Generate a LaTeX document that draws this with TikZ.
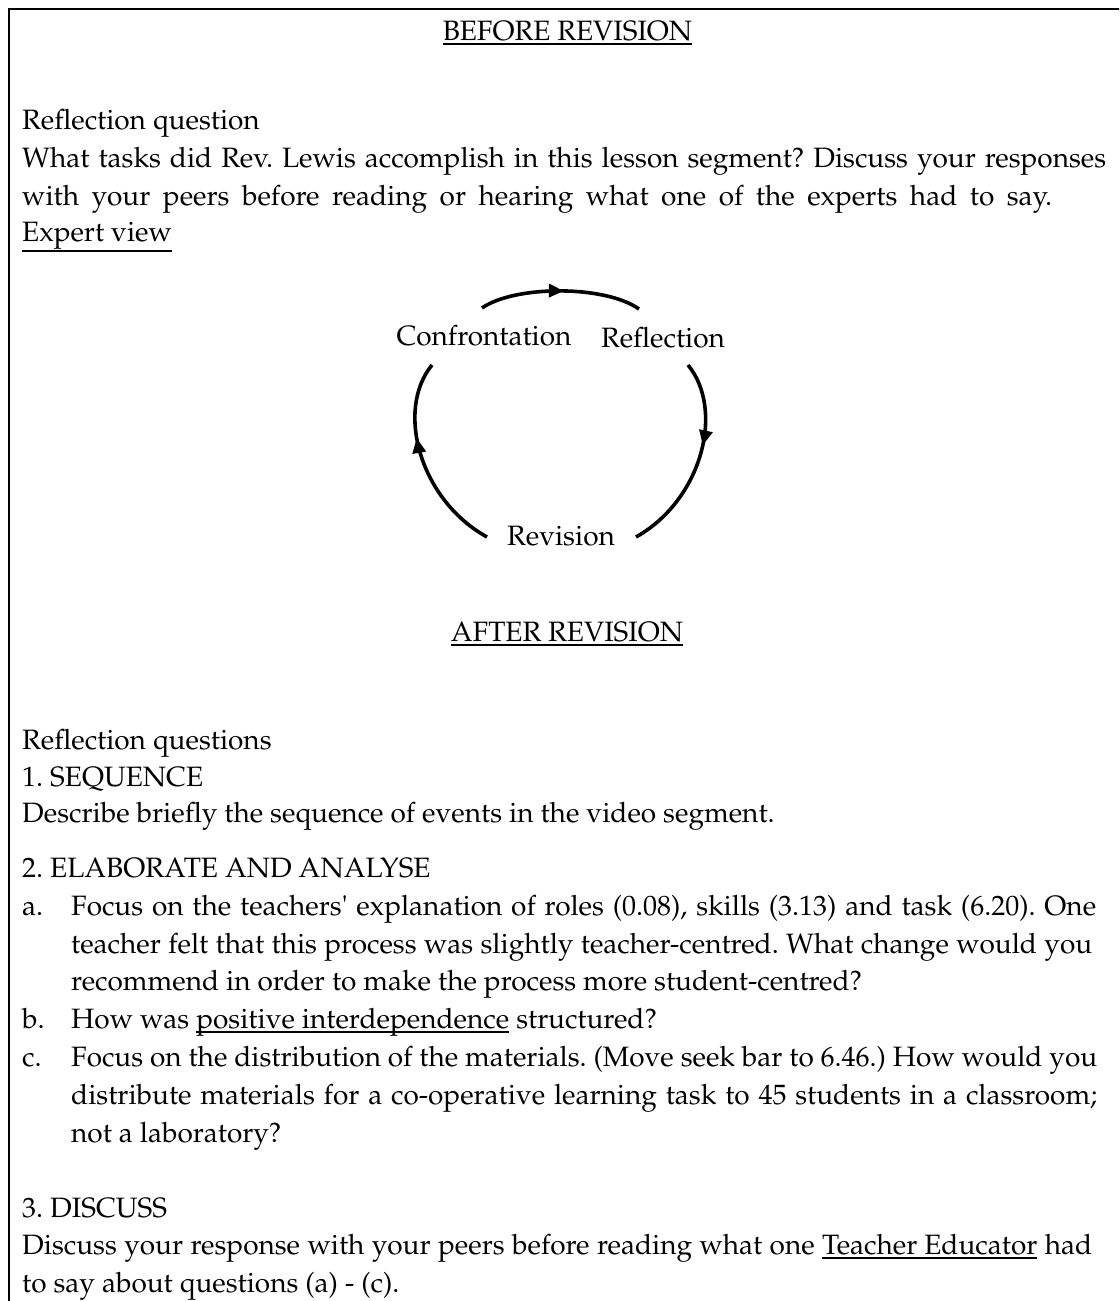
\documentclass[tikz,border=0pt]{standalone}
\usepackage[T1]{fontenc}
\renewcommand{\rmdefault}{ppl}
\usetikzlibrary{arrows.meta,decorations.markings}
\frenchspacing

% underline drawn at a fixed depth below the baseline
\newcommand{\myul}[2][5]{\setbox0=\hbox{#2}\rlap{\rule[-#1pt]{\wd0}{2pt}}\box0\relax}
% a justified line spread to a given width
\newcommand{\jline}[2]{\makebox[#1pt][s]{#2}}

\tikzset{
  body/.style={inner sep=0pt, font=\fontsize{28}{32}\selectfont},
  txt/.style={body, anchor=base west},
  ctr/.style={body, anchor=base},
  frameline/.style={line width=2pt},
  cyc/.style={line width=3.6pt},
  tip/.style={postaction={decorate, decoration={markings,
      mark=at position #1 with {\arrow{Triangle[length=15pt,width=13pt]}}}}},
}

\begin{document}
\begin{tikzpicture}[x=1pt,y=-1pt]
\useasboundingbox (0,0) rectangle (1119,1301);
\clip (0,0) rectangle (1119,1301);

% frame
\draw[frameline] (9,1310) -- (9,9) -- (1130,9);

% before revision
\node[ctr] (h1) at (567.5,40) {\myul{BEFORE REVISION}};
\node[txt] (q0) at (22,129) {Reflection question};
\node[txt] (q1) at (22,167) {\jline{1084}{What tasks did Rev. Lewis accomplish in this lesson segment? Discuss your responses}};
\node[txt] (q2) at (22,205) {\jline{1030}{with your peers before reading or hearing what one of the experts had to say.}};
\node[txt] (ev) at (22,241) {\myul[11]{Expert view}};

% cycle
\node[ctr] (conf) at (484,345) {Confrontation};
\node[ctr] (refl) at (663,347) {Reflection};
\node[ctr] (rev) at (561,545) {Revision};
\coordinate (c1) at (482,308);
\coordinate (c2) at (639,309);
\coordinate (r1) at (688,365);
\coordinate (r2) at (636,537);
\coordinate (l1) at (487,537);
\coordinate (l2) at (432,365);
\draw[cyc, tip=0.52] (c1) .. controls (515,285) and (605,285) .. (c2);
\draw[cyc, tip=0.42] (r1) .. controls (725,410) and (702,500) .. (r2);
\draw[cyc, tip=0.62] (l1) .. controls (420,500) and (395,410) .. (l2);

% after revision
\node[ctr] (h2) at (567,641) {\myul{AFTER REVISION}};
\node[txt] (p0) at (22,749) {Reflection questions};
\node[txt] (p1) at (22,786) {1. SEQUENCE};
\node[txt] (p2) at (22,822) {Describe briefly the sequence of events in the video segment.};
\node[txt] (p3) at (22,877) {2. ELABORATE AND ANALYSE};
\node[txt] (la) at (22,915) {a.};
\node[txt] (a1) at (71,915) {\jline{1025}{Focus on the teachers\textquotesingle{} explanation of roles (0.08), skills (3.13) and task (6.20). One}};
\node[txt] (a2) at (71,953) {\jline{1021}{teacher felt that this process was slightly teacher-centred. What change would you}};
\node[txt] (a3) at (71,990) {recommend in order to make the process more student-centred?};
\node[txt] (lb) at (22,1028) {b.};
\node[txt] (b1) at (71,1028) {How was \myul{positive interdependence} structured?};
\node[txt] (lc) at (22,1066) {c.};
\node[txt] (c1t) at (71,1066) {\jline{1026}{Focus on the distribution of the materials. (Move seek bar to 6.46.) How would you}};
\node[txt] (c2t) at (71,1104) {\jline{1026}{distribute materials for a co-operative learning task to 45 students in a classroom;}};
\node[txt] (c3t) at (71,1142) {not a laboratory?};
\node[txt] (p4) at (22,1217) {3. DISCUSS};
\node[txt] (p5) at (22,1254) {\jline{1070}{Discuss your response with your peers before reading what one \myul{Teacher Educator} had}};
\node[txt] (p6) at (22,1292) {to say about questions (a) - (c).};
\end{tikzpicture}
\end{document}
